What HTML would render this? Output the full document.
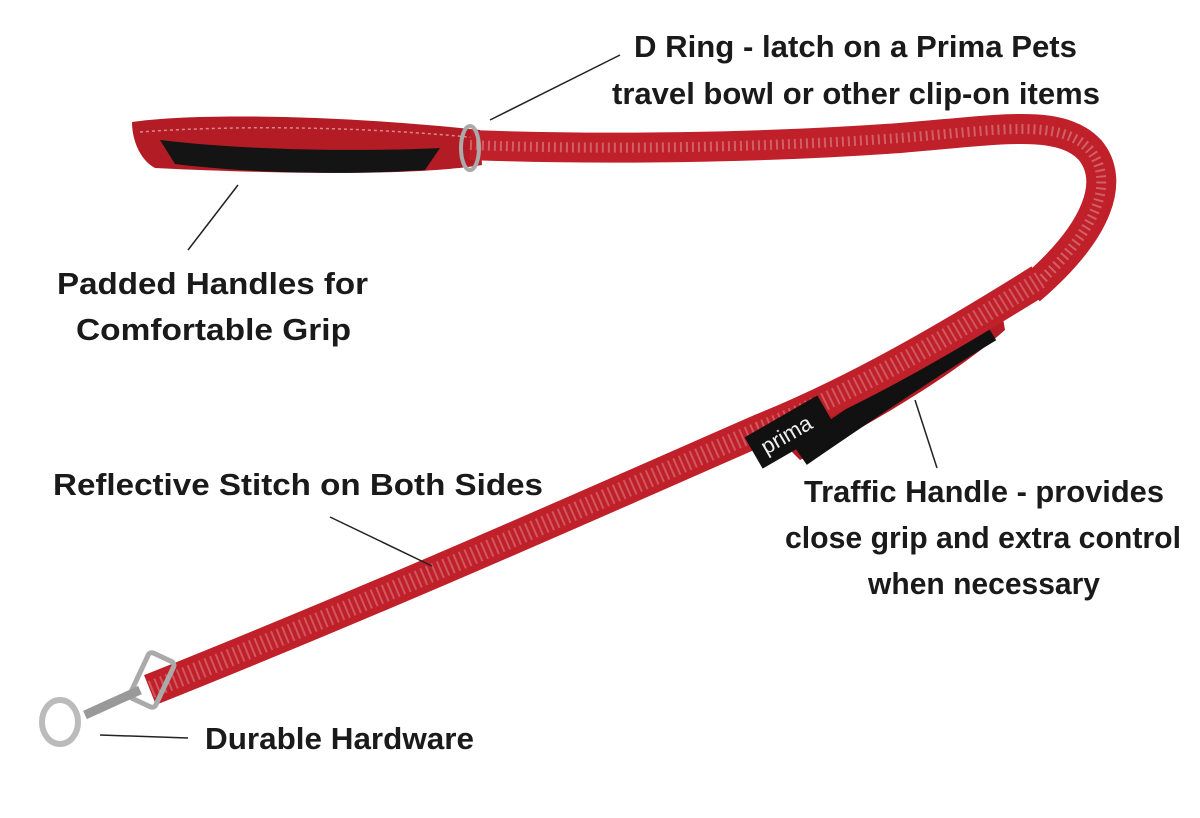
<!DOCTYPE html>
<html><head><meta charset="utf-8"><style>
html,body{margin:0;padding:0;background:#fff;}
svg{display:block}
text{font-family:"Liberation Sans",sans-serif;font-size:31px;fill:#1a1a1a;font-weight:600;}
</style></head><body>
<svg width="1200" height="818" viewBox="0 0 1200 818">
<!-- padded handle loop -->
<path d="M132,122 C200,112 350,116 480,130 L482,165 C420,175 300,175 155,168 C140,160 132,140 132,122 Z" fill="#b31c24"/>
<path d="M160,140 C240,150 360,152 440,148 L425,170 C330,176 240,172 175,164 Z" fill="#141414"/>
<path d="M140,132 C250,124 380,128 478,138" stroke="#f0d0d0" stroke-width="1.5" stroke-dasharray="3 3" fill="none" opacity=".6"/>
<!-- top strap to right -->
<path d="M470,145 C600,150 760,148 900,138 C1000,130 1060,118 1090,150 C1115,180 1100,230 1030,290" stroke="#c0202a" stroke-width="30" fill="none"/>
<path d="M470,145 C600,150 760,148 900,138 C1000,130 1060,118 1090,150 C1115,180 1100,230 1030,290" stroke="#f2d6d6" stroke-width="10" stroke-dasharray="2 4" fill="none" opacity=".35"/>
<!-- D ring -->
<ellipse cx="470" cy="148" rx="9" ry="22" stroke="#aaa" stroke-width="4" fill="none"/>
<!-- traffic handle back -->
<path d="M1000,300 C940,325 860,370 770,430 L800,460 C880,420 960,370 1005,330 Z" fill="#b31c24"/>
<path d="M990,330 C940,360 880,400 800,455" stroke="#111" stroke-width="24" fill="none"/>
<!-- main lower strap -->
<path d="M1040,280 C960,330 860,390 760,430 C600,500 400,590 150,690" stroke="#c0202a" stroke-width="32" fill="none"/>
<path d="M1040,280 C960,330 860,390 760,430 C600,500 400,590 150,690" stroke="#f2d6d6" stroke-width="18" stroke-dasharray="2 4" fill="none" opacity=".3"/>
<!-- label -->
<g transform="translate(790,432) rotate(-30)"><rect x="-42" y="-18" width="84" height="36" fill="#111"/><text x="-32" y="8" style="font-size:22px;fill:#eee;font-weight:400">prima</text></g>
<!-- hardware -->
<rect x="138" y="655" width="28" height="50" rx="4" transform="rotate(25 152 680)" stroke="#aaa" stroke-width="5" fill="none"/>
<path d="M140,690 L85,715" stroke="#999" stroke-width="9"/>
<ellipse cx="60" cy="722" rx="18" ry="22" stroke="#bbb" stroke-width="6" fill="none"/>
<!-- leader lines -->
<g stroke="#222" stroke-width="1.5">
<line x1="490" y1="120" x2="620" y2="55"/>
<line x1="188" y1="250" x2="238" y2="185"/>
<line x1="330" y1="517" x2="432" y2="566"/>
<line x1="937" y1="468" x2="915" y2="400"/>
<line x1="100" y1="735" x2="188" y2="738"/>
</g>
<g>
<text x="634" y="57" textLength="443" lengthAdjust="spacingAndGlyphs">D Ring - latch on a Prima Pets</text>
<text x="612" y="104" textLength="488" lengthAdjust="spacingAndGlyphs">travel bowl or other clip-on items</text>
<text x="57" y="294" textLength="311" lengthAdjust="spacingAndGlyphs">Padded Handles for</text>
<text x="76" y="340" textLength="275" lengthAdjust="spacingAndGlyphs">Comfortable Grip</text>
<text x="53" y="495" textLength="490" lengthAdjust="spacingAndGlyphs">Reflective Stitch on Both Sides</text>
<text x="804" y="502" textLength="360" lengthAdjust="spacingAndGlyphs">Traffic Handle - provides</text>
<text x="785" y="548" textLength="396" lengthAdjust="spacingAndGlyphs">close grip and extra control</text>
<text x="868" y="594" textLength="232" lengthAdjust="spacingAndGlyphs">when necessary</text>
<text x="205" y="749" textLength="269" lengthAdjust="spacingAndGlyphs">Durable Hardware</text>
</g>
</svg>
</body></html>
